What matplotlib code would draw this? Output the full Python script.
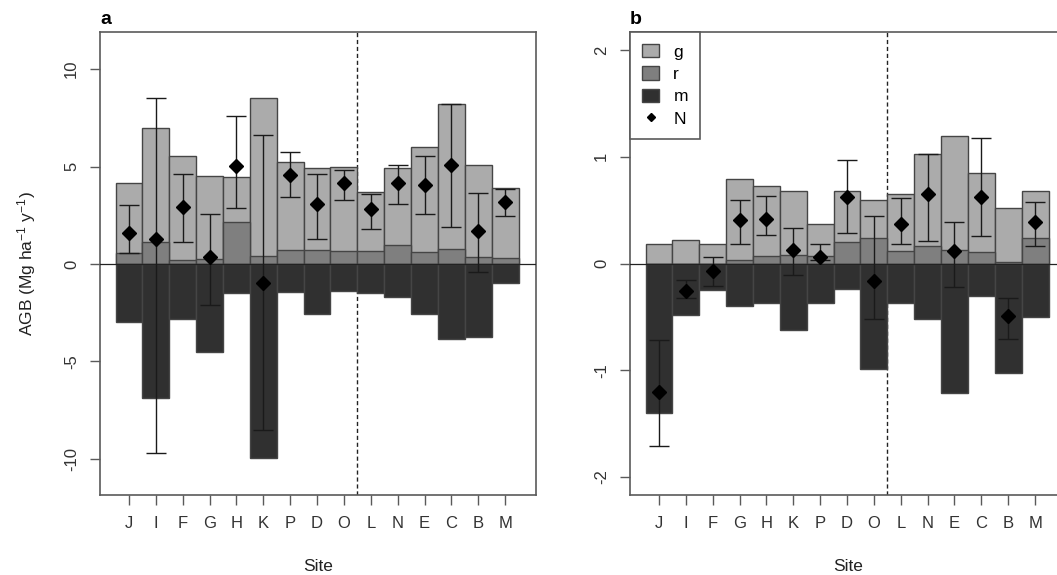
import numpy as np
import matplotlib
matplotlib.use('Agg')
import matplotlib.pyplot as plt
from matplotlib.patches import Patch
from matplotlib.lines import Line2D

sites = ['J', 'I', 'F', 'G', 'H', 'K', 'P', 'D', 'O', 'L', 'N', 'E', 'C', 'B', 'M']

# panel a
g_a = [4.15, 7.0, 5.55, 4.5, 4.45, 8.5, 5.25, 4.9, 5.0, 3.7, 4.95, 6.0, 8.2, 5.1, 3.9]
r_a = [0.58, 1.15, 0.2, 0.24, 2.17, 0.43, 0.72, 0.72, 0.68, 0.68, 0.97, 0.63, 0.75, 0.38, 0.29]
m_a = [-3.0, -6.85, -2.8, -4.5, -1.5, -9.95, -1.45, -2.55, -1.4, -1.5, -1.7, -2.55, -3.85, -3.75, -0.95]
n_a = [1.6, 1.3, 2.9, 0.38, 5.05, -0.96, 4.56, 3.08, 4.14, 2.8, 4.14, 4.05, 5.08, 1.69, 3.16]
n_hi_a = [3.05, 8.5, 4.6, 2.56, 7.6, 6.6, 5.73, 4.6, 4.82, 3.6, 5.1, 5.54, 8.2, 3.66, 3.87]
n_lo_a = [0.55, -9.7, 1.11, -2.1, 2.85, -8.5, 3.45, 1.28, 3.28, 1.8, 3.06, 2.56, 1.91, -0.39, 2.48]

# panel b
g_b = [0.18, 0.22, 0.18, 0.79, 0.73, 0.68, 0.37, 0.68, 0.6, 0.65, 1.03, 1.2, 0.85, 0.52, 0.68]
r_b = [0.0, 0.0, 0.0, 0.03, 0.07, 0.08, 0.07, 0.2, 0.24, 0.12, 0.16, 0.13, 0.11, 0.01, 0.24]
m_b = [-1.4, -0.48, -0.25, -0.4, -0.37, -0.62, -0.37, -0.24, -0.99, -0.37, -0.52, -1.21, -0.3, -1.03, -0.5]
n_b = [-1.2, -0.26, -0.07, 0.41, 0.42, 0.13, 0.06, 0.62, -0.16, 0.37, 0.65, 0.12, 0.62, -0.49, 0.39]
n_hi_b = [-0.72, -0.15, 0.06, 0.6, 0.63, 0.33, 0.18, 0.97, 0.45, 0.61, 1.03, 0.39, 1.18, -0.32, 0.58]
n_lo_b = [-1.71, -0.32, -0.21, 0.18, 0.27, -0.11, 0.03, 0.29, -0.52, 0.18, 0.21, -0.22, 0.26, -0.71, 0.16]

plt.rcParams['font.family'] = 'Liberation Sans'
plt.rcParams['mathtext.default'] = 'regular'

col_g = '#ababab'
col_r = '#7f7f7f'
col_m = '#303030'
col_edge = '#454545'
col_axis = '#5a5a5a'

fig = plt.figure(figsize=(10.57, 5.75), dpi=100)
ax_a = fig.add_axes([0.0946, 0.1391, 0.4125, 0.8052])
ax_b = fig.add_axes([0.596, 0.1391, 0.4125, 0.8052])


def draw_panel(ax, g, r, m, n, n_lo, n_hi, ylim, yticks, letter):
    x = np.arange(len(sites))
    ax.axvline(8.5, color='#222222', lw=1.0, ls=(0, (3, 2)), zorder=1)
    ax.bar(x, g, width=1, color=col_g, edgecolor=col_edge, linewidth=1, zorder=2)
    ax.bar(x, r, width=1, color=col_r, edgecolor=col_edge, linewidth=1, zorder=3)
    ax.bar(x, m, width=1, color=col_m, edgecolor=col_edge, linewidth=1, zorder=4)
    ax.axhline(0, color='#222222', lw=0.9, zorder=5)
    n = np.array(n)
    yerr = [n - np.array(n_lo), np.array(n_hi) - n]
    ax.errorbar(x, n, yerr=yerr, fmt='D', color='black', ms=7,
                ecolor='#1a1a1a', elinewidth=1.0, capsize=7.5, capthick=1.0, zorder=6)

    ax.set_xlim(-1.08, 15.15)
    ax.set_ylim(*ylim)
    ax.set_xticks(x)
    ax.set_xticklabels(sites)
    ax.set_yticks(yticks)
    ax.set_yticklabels([str(v) for v in yticks], rotation=90, va='center')
    ax.tick_params(length=7, width=1, color=col_axis, labelcolor='#333333',
                   labelsize=12, pad=8)
    for s in ax.spines.values():
        s.set_color(col_axis)
        s.set_linewidth(1.2)
    ax.set_xlabel('Site', fontsize=12.5, color='#222222')
    ax.xaxis.set_label_coords(0.5, -0.138)
    ax.text(0.0, 1.008, letter, transform=ax.transAxes, ha='left', va='bottom',
            fontsize=14, fontweight='bold')


draw_panel(ax_a, g_a, r_a, m_a, n_a, n_lo_a, n_hi_a, (-11.85, 11.9), [-10, -5, 0, 5, 10], 'a')
draw_panel(ax_b, g_b, r_b, m_b, n_b, n_lo_b, n_hi_b, (-2.17, 2.17), [-2, -1, 0, 1, 2], 'b')

ax_a.set_ylabel('AGB (Mg ha$^{-1}$ y$^{-1}$)', fontsize=12.5, color='#222222')
ax_a.yaxis.set_label_coords(-0.142, 0.5)

handles = [Patch(facecolor=col_g, edgecolor=col_edge, label='g'),
           Patch(facecolor=col_r, edgecolor=col_edge, label='r'),
           Patch(facecolor=col_m, edgecolor=col_edge, label='m'),
           Line2D([], [], marker='D', color='black', ls='', ms=4, label='N')]
leg = ax_b.legend(handles=handles, loc='upper left', borderaxespad=0, fontsize=12.5,
                  handlelength=1.0, handleheight=0.8, handletextpad=0.8,
                  labelspacing=0.38, fancybox=False, framealpha=1,
                  borderpad=0.7)
leg.get_frame().set_edgecolor(col_axis)
leg.get_frame().set_linewidth(1.2)

fig.savefig('out.png', dpi=100)
